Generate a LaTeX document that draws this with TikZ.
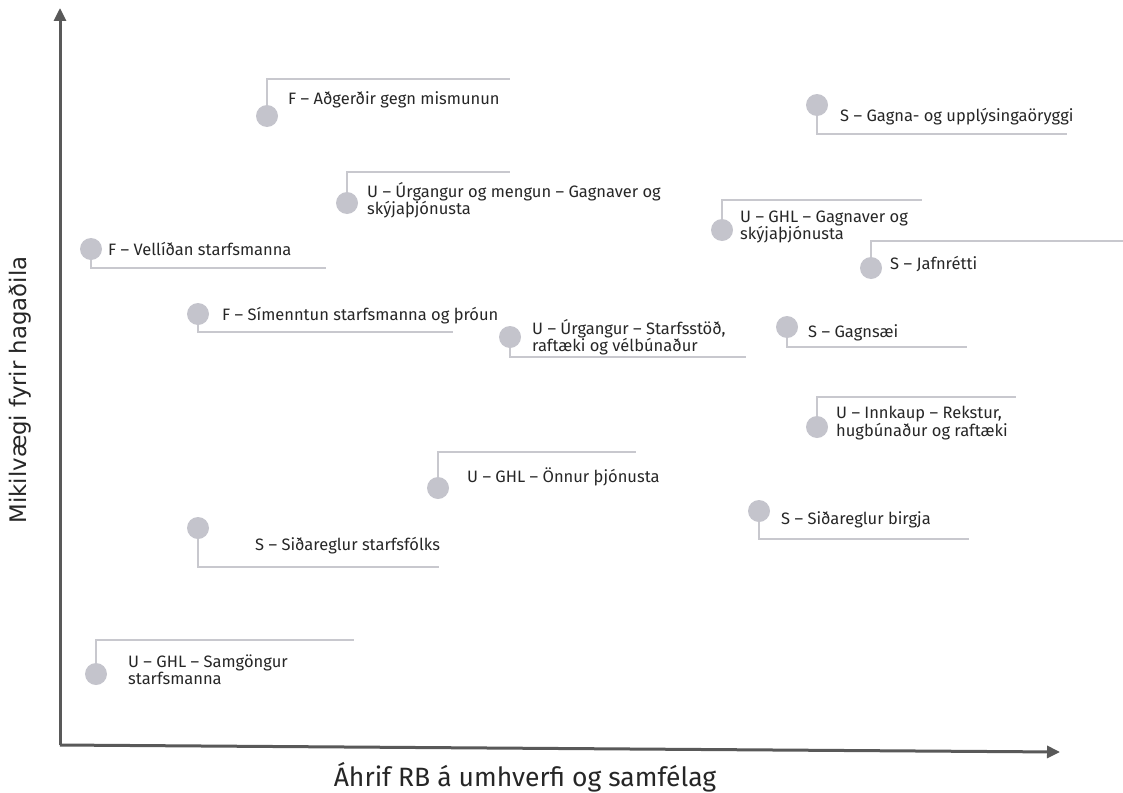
\documentclass[tikz,border=0pt]{standalone}
\usepackage{fontspec}
\setmainfont{Fira Sans}
\newfontfamily\axisfont{DejaVu Sans}
\usetikzlibrary{arrows.meta}

\definecolor{dotgrey}{HTML}{C4C4CC}
\definecolor{leadgrey}{HTML}{C8C8CE}
\definecolor{axisgrey}{HTML}{595959}
\definecolor{textgrey}{HTML}{262626}

\tikzset{
    dot/.style={circle, fill=dotgrey, inner sep=0pt, minimum size=22pt},
    lbl/.style={anchor=west, inner sep=0pt, align=left, text=textgrey,
        font=\fontsize{16.5}{17.5}\selectfont},
    leader/.style={draw=leadgrey, line width=1.6pt},
    axis/.style={draw=axisgrey, line width=3pt, -{Triangle[length=13pt,width=12pt]}}
}

\begin{document}
\begin{tikzpicture}[x=1pt, y=-1pt]
    \useasboundingbox (0,0) rectangle (1123,792);

    % axes
    \coordinate (origin) at (60,745);
    \coordinate (ytip) at (60,8);
    \coordinate (xtip) at (1060,752);
    \draw[axis] (origin) -- (ytip);
    \draw[axis] (origin) -- (xtip);
    \node[text=textgrey, font=\fontsize{26.5}{28}\selectfont] (xlabel) at (525,777) {Áhrif RB á umhverfi og samfélag};
    \node[text=textgrey, rotate=90, font=\axisfont\fontsize{22.8}{25}\selectfont] (ylabel) at (20,390) {Mikilvægi fyrir hagaðila};

    % F
    \node[dot] (d1) at (267,116) {};
    \node[lbl] (t1) at (288,100) {F – Aðgerðir gegn mismunun};
    \coordinate (e1) at (510,79);
    \draw[leader] (d1) |- (e1);

    \node[dot] (d3) at (91,249) {};
    \node[lbl] (t3) at (108,249) {F – Vellíðan starfsmanna};
    \coordinate (e3) at (326,268);
    \draw[leader] (d3) |- (e3);

    \node[dot] (d4) at (198,314) {};
    \node[lbl] (t4) at (222,316) {F – Símenntun starfsmanna og þróun};
    \coordinate (e4) at (453,332);
    \draw[leader] (d4) |- (e4);

    % U
    \node[dot] (d2) at (347,203) {};
    \node[lbl] (t2) at (367,200) {U – Úrgangur og mengun – Gagnaver og\\skýjaþjónusta};
    \coordinate (e2) at (510,172);
    \draw[leader] (d2) |- (e2);

    \node[dot] (d5) at (510,337) {};
    \node[lbl] (t5) at (532,337) {U – Úrgangur – Starfsstöð,\\raftæki og vélbúnaður};
    \coordinate (e5) at (746,357);
    \draw[leader] (d5) |- (e5);

    \node[dot] (d7) at (722,230) {};
    \node[lbl] (t7) at (740,227) {U – GHL – Gagnaver og\\skýjaþjónusta};
    \coordinate (e7) at (922,200);
    \draw[leader] (d7) |- (e7);

    \node[dot] (d10) at (817,427) {};
    \node[lbl] (t10) at (836,423) {U – Innkaup – Rekstur,\\hugbúnaður og raftæki};
    \coordinate (e10) at (1016,397);
    \draw[leader] (d10) |- (e10);

    \node[dot] (d11) at (438,488) {};
    \node[lbl] (t11) at (467,477) {U – GHL – Önnur þjónusta};
    \coordinate (e11) at (636,452);
    \draw[leader] (d11) |- (e11);

    \node[dot] (d14) at (96,674) {};
    \node[lbl] (t14) at (128,670) {U – GHL – Samgöngur\\starfsmanna};
    \coordinate (e14) at (354,640);
    \draw[leader] (d14) |- (e14);

    % S
    \node[dot] (d6) at (817,105) {};
    \node[lbl] (t6) at (840,117) {S – Gagna- og upplýsingaöryggi};
    \coordinate (e6) at (1067,134);
    \draw[leader] (d6) |- (e6);

    \node[dot] (d8) at (871,268) {};
    \node[lbl] (t8) at (890,264) {S – Jafnrétti};
    \coordinate (e8) at (1123,241);
    \draw[leader] (d8) |- (e8);

    \node[dot] (d9) at (787,327) {};
    \node[lbl] (t9) at (808,333) {S – Gagnsæi};
    \coordinate (e9) at (967,347);
    \draw[leader] (d9) |- (e9);

    \node[dot] (d12) at (759,511) {};
    \node[lbl] (t12) at (781,520) {S – Siðareglur birgja};
    \coordinate (e12) at (969,539);
    \draw[leader] (d12) |- (e12);

    \node[dot] (d13) at (198,528) {};
    \node[lbl] (t13) at (255,546) {S – Siðareglur starfsfólks};
    \coordinate (e13) at (439,567);
    \draw[leader] (d13) |- (e13);
\end{tikzpicture}
\end{document}
